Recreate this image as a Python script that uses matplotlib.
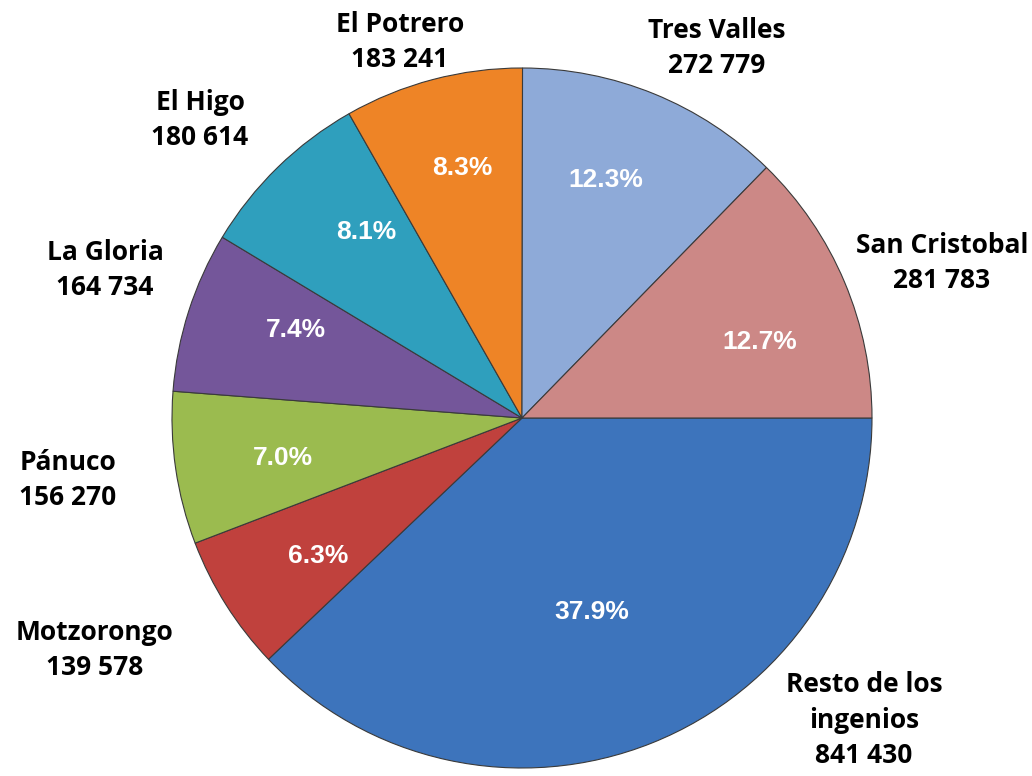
import numpy as np
import matplotlib.pyplot as plt

names = ["Resto de los\ningenios", "Motzorongo", "Pánuco", "La Gloria",
         "El Higo", "El Potrero", "Tres Valles", "San Cristobal"]
values = [841430, 139578, 156270, 164734, 180614, 183241, 272779, 281783]
percents = ["37.9%", "6.3%", "7.0%", "7.4%", "8.1%", "8.3%", "12.3%", "12.7%"]
colors = ["#3D74BC", "#C0413D", "#9BBB4F", "#74569A",
          "#2F9FBD", "#EE8426", "#8EAAD8", "#CC8886"]

W, H = 1032, 776
cx, cy, r = 522, H - 418, 350

# label offsets from pie centre (pixels, y up)
name_off = [(342, -302), (-427, -232), (-454, -62), (-417, 148),
            (-322, 298), (-122, 376), (195, 370), (420, 155)]
pct_off = [(70, -194), (-204, -138), (-239, -40), (-226, 88),
           (-156, 186), (-60, 250), (84, 238), (238, 76)]

fig = plt.figure(figsize=(W / 100, H / 100), dpi=100)
ax = fig.add_axes([0, 0, 1, 1])

ax.pie(values, colors=colors, startangle=0, counterclock=False,
       center=(cx, cy), radius=r, frame=True,
       wedgeprops=dict(edgecolor="#3a3a3a", linewidth=0.8))
ax.set_xlim(0, W)
ax.set_ylim(0, H)
ax.set_aspect("equal")
ax.axis("off")

for name, v, (dx, dy) in zip(names, values, name_off):
    txt = name + "\n" + f"{v:,}".replace(",", " ")
    ax.text(cx + dx, cy + dy, txt, ha="center", va="center",
            fontsize=19, fontweight="bold", family="Open Sans",
            linespacing=1.42, color="black")

for p, (dx, dy) in zip(percents, pct_off):
    ax.text(cx + dx, cy + dy, p, ha="center", va="center",
            fontsize=19, fontweight="bold", family="Liberation Sans",
            color="white")

fig.savefig("out.png", dpi=100)
